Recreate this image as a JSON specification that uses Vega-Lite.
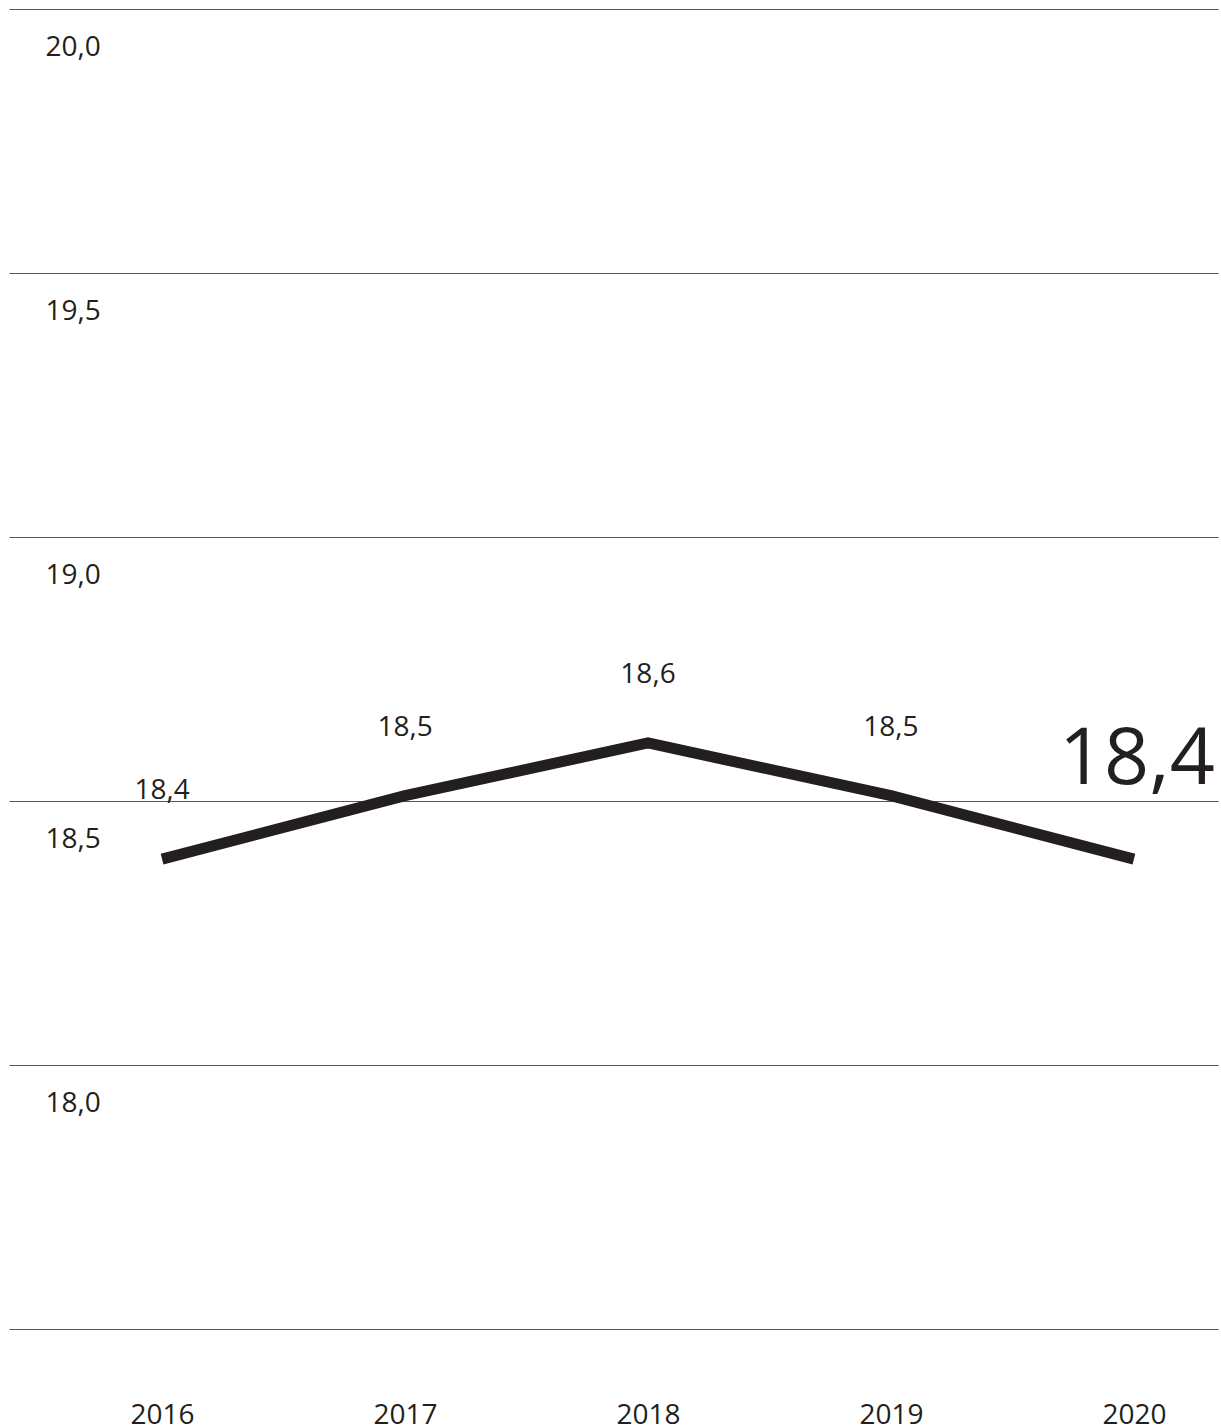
{
  "$schema": "https://vega.github.io/schema/vega-lite/v6.json",
  "autosize": "none",
  "width": 1209,
  "height": 1320,
  "padding": {"left": 9, "top": 9, "right": 3, "bottom": 99},
  "config": {
    "locale": {"number": {"decimal": ",", "thousands": ".", "grouping": [3], "currency": ["", " €"]}},
    "view": {"stroke": null},
    "font": "Open Sans",
    "text": {"font": "Open Sans", "color": "#231f20"}
  },
  "data": {
    "values": [
      {"year": 2016, "value": 18.39},
      {"year": 2017, "value": 18.51},
      {"year": 2018, "value": 18.61},
      {"year": 2019, "value": 18.51},
      {"year": 2020, "value": 18.39}
    ]
  },
  "encoding": {
    "x": {
      "field": "year",
      "type": "quantitative",
      "scale": {"domain": [2015.37, 2020.346], "nice": false, "zero": false},
      "axis": {
        "title": null,
        "values": [2016, 2017, 2018, 2019, 2020],
        "format": "d",
        "grid": false,
        "domain": false,
        "ticks": false,
        "labelPadding": 72,
        "labelBaseline": "top",
        "labelFontSize": 28,
        "labelColor": "#231f20",
        "labelFont": "Open Sans",
        "labelFlush": false
      }
    },
    "y": {
      "field": "value",
      "type": "quantitative",
      "scale": {"domain": [17.5, 20], "nice": false, "zero": false},
      "axis": {
        "title": null,
        "values": [17.5, 18, 18.5, 19, 19.5, 20],
        "labelExpr": "datum.value == 17.5 ? '' : datum.label",
        "format": ".1f",
        "grid": true,
        "gridColor": "#555555",
        "gridWidth": 1,
        "gridOpacity": 1,
        "domain": false,
        "ticks": false,
        "labelAlign": "left",
        "labelBaseline": "top",
        "labelPadding": -36,
        "labelOffset": 24,
        "labelFontSize": 28,
        "labelColor": "#231f20",
        "labelFont": "Open Sans",
        "labelFlush": false
      }
    }
  },
  "layer": [
    {
      "mark": {"type": "line", "color": "#231f20", "strokeWidth": 11, "strokeCap": "butt", "strokeJoin": "miter"}
    },
    {
      "transform": [{"filter": "datum.year < 2020"}],
      "mark": {"type": "text", "fontSize": 28, "baseline": "alphabetic", "dy": -60, "color": "#231f20"},
      "encoding": {"text": {"field": "value", "type": "quantitative", "format": ".1f"}}
    },
    {
      "transform": [{"filter": "datum.year == 2020"}],
      "mark": {"type": "text", "fontSize": 79, "baseline": "alphabetic", "dy": -75, "dx": 3, "color": "#231f20"},
      "encoding": {"text": {"field": "value", "type": "quantitative", "format": ".1f"}}
    }
  ]
}
